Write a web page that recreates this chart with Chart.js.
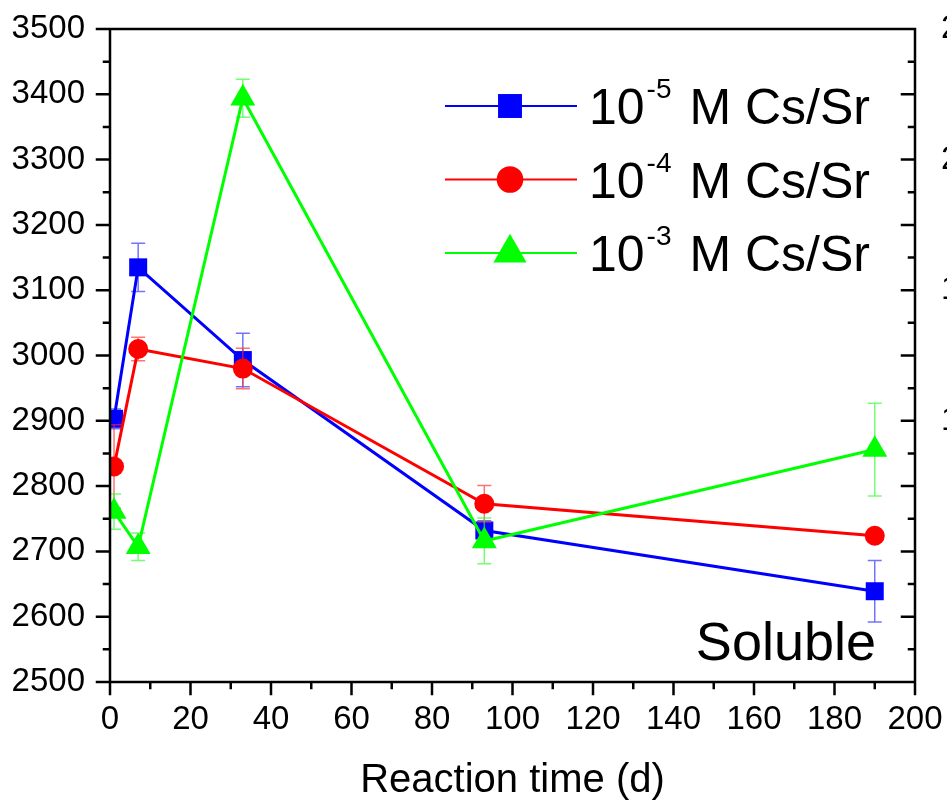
<!DOCTYPE html>
<html>
<head>
<meta charset="utf-8">
<title>Soluble Cs/Sr vs reaction time</title>
<script src="https://cdn.jsdelivr.net/npm/chart.js@4.4.1/dist/chart.umd.min.js"></script>
<style>
  body { margin: 0; background: #fff; }
  canvas { display: block; }
</style>
</head>
<body>
<canvas id="lineChart" width="947" height="800"></canvas>
<script>
// reaction time in days
var days = [1, 7, 33, 93, 190];

// soluble concentration for each starting Cs/Sr level, with +/- error
var cs5 = [2903, 3135, 2993, 2732, 2639];
var cs5Err = [15, 37, 41, 15, 47];
var cs4 = [2830, 3010, 2980, 2773, 2724];
var cs4Err = [64, 18, 31, 28, 8];
var cs3 = [2761, 2707, 3394, 2716, 2856];
var cs3Err = [27, 21, 29, 35, 71];

var legendBase = "10";
var legendExp = ["-5", "-4", "-3"];
var legendUnit = " M Cs/Sr";
var rightAxisLabels = ["2", "2", "1", "1"];
var panelLabel = "Soluble";

var FONT = "'Liberation Sans', Arial, sans-serif";

function points(ys) {
  return days.map(function (d, i) { return { x: d, y: ys[i] }; });
}

function series(ys, errs, color, errColor, style, radius, order) {
  return {
    data: points(ys),
    errors: errs,
    errorColor: errColor,
    borderColor: color,
    backgroundColor: color,
    borderWidth: 3,
    pointStyle: style,
    pointRadius: radius,
    pointHoverRadius: radius,
    pointBorderWidth: 0,
    pointBackgroundColor: color,
    showLine: true,
    tension: 0,
    clip: 0,
    order: order
  };
}

// error bars go under each dataset's own markers
var errorBars = {
  id: "errorBars",
  beforeDatasetDraw: function (chart, args) {
    var ds = chart.data.datasets[args.index];
    if (!ds.errors) return;
    var ctx = chart.ctx, a = chart.chartArea;
    var x = chart.scales.x, y = chart.scales.y;
    ctx.save();
    ctx.beginPath();
    ctx.rect(a.left, a.top, a.right - a.left, a.bottom - a.top);
    ctx.clip();
    ctx.strokeStyle = ds.errorColor;
    ctx.lineWidth = 1.5;
    ctx.beginPath();
    ds.data.forEach(function (p, i) {
      var px = x.getPixelForValue(p.x);
      var top = y.getPixelForValue(p.y + ds.errors[i]);
      var bot = y.getPixelForValue(p.y - ds.errors[i]);
      ctx.moveTo(px, top); ctx.lineTo(px, bot);
      ctx.moveTo(px - 7, top); ctx.lineTo(px + 7, top);
      ctx.moveTo(px - 7, bot); ctx.lineTo(px + 7, bot);
    });
    ctx.stroke();
    ctx.restore();
  }
};

// closed frame, major/minor ticks, the cut-off right axis, legend and panel label
var decorations = {
  id: "decorations",
  afterDraw: function (chart) {
    var ctx = chart.ctx, a = chart.chartArea;
    var x = chart.scales.x, y = chart.scales.y;
    ctx.save();
    ctx.strokeStyle = "#000";
    ctx.lineWidth = 2.5;
    ctx.lineCap = "square";
    ctx.beginPath();
    ctx.rect(a.left, a.top, a.right - a.left, a.bottom - a.top);
    for (var v = x.min; v <= x.max; v += 10) {
      var px = x.getPixelForValue(v);
      ctx.moveTo(px, a.bottom);
      ctx.lineTo(px, a.bottom + (v % 20 === 0 ? 12 : 6));
    }
    for (var w = y.min; w <= y.max; w += 50) {
      var py = y.getPixelForValue(w);
      var len = w % 100 === 0 ? 13 : 6;
      ctx.moveTo(a.left, py); ctx.lineTo(a.left - len, py);
      ctx.moveTo(a.right, py); ctx.lineTo(a.right - len, py);
    }
    ctx.stroke();

    ctx.fillStyle = "#000";
    ctx.font = "33px " + FONT;
    ctx.textAlign = "left";
    ctx.textBaseline = "middle";
    rightAxisLabels.forEach(function (t, i) {
      ctx.fillText(t, a.right + 26, y.getPixelForValue(y.max - i * 200));
    });

    // legend, symbols a bit larger than on the curves
    var rowY = [106, 179.5, 253];
    chart.data.datasets.forEach(function (ds, i) {
      var ly = rowY[i];
      ctx.strokeStyle = ds.borderColor;
      ctx.lineWidth = 2;
      ctx.lineCap = "butt";
      ctx.beginPath();
      ctx.moveTo(445, ly); ctx.lineTo(577, ly);
      ctx.stroke();
      ctx.fillStyle = ds.backgroundColor;
      Chart.helpers.drawPoint(ctx, { pointStyle: ds.pointStyle, radius: ds.pointRadius * 1.33, rotation: 0, borderWidth: 0 }, 510, ly);

      var base = ly + 18;
      var tx = 589;
      ctx.fillStyle = "#000";
      ctx.textBaseline = "alphabetic";
      ctx.font = "50px " + FONT;
      ctx.fillText(legendBase, tx, base);
      tx += ctx.measureText(legendBase).width + 2;
      ctx.font = "28px " + FONT;
      ctx.fillText(legendExp[i], tx, base - 26);
      tx += ctx.measureText(legendExp[i]).width + 4;
      ctx.font = "50px " + FONT;
      ctx.fillText(legendUnit, tx, base);
    });

    ctx.font = "54px " + FONT;
    ctx.textAlign = "right";
    ctx.textBaseline = "alphabetic";
    ctx.fillStyle = "#000";
    ctx.fillText(panelLabel, 876, 660);
    ctx.restore();
  }
};

function plainTick(value) {
  return String(value);
}

var ctx = document.getElementById("lineChart").getContext("2d");

var myLineChart = new Chart(ctx, {
  type: "scatter",
  data: {
    datasets: [
      series(cs5, cs5Err, "#0000ff", "rgba(40,40,255,0.65)", "rect", 12.73, 3),
      series(cs4, cs4Err, "#ff0000", "rgba(255,40,40,0.65)", "circle", 10, 2),
      series(cs3, cs3Err, "#00ff00", "rgba(40,255,40,0.65)", "triangle", 14.4, 1)
    ]
  },
  options: {
    responsive: false,
    animation: false,
    layout: {
      padding: { top: 29, right: 32, left: 0, bottom: 0 }
    },
    plugins: {
      legend: { display: false },
      tooltip: { enabled: false }
    },
    scales: {
      x: {
        type: "linear",
        min: 0,
        max: 200,
        grid: { display: false, drawTicks: false },
        border: { display: false },
        ticks: {
          stepSize: 20,
          color: "#000",
          padding: 18,
          maxRotation: 0,
          callback: plainTick,
          font: { family: FONT, size: 33 }
        },
        title: {
          display: true,
          text: "Reaction time (d)",
          color: "#000",
          font: { family: FONT, size: 40, lineHeight: 1 },
          padding: { top: 0, bottom: -1 }
        },
        afterFit: function (scale) {
          scale.height = 118;
          scale.paddingLeft = 0;
          scale.paddingRight = 0;
        }
      },
      y: {
        min: 2500,
        max: 3500,
        grid: { display: false, drawTicks: false },
        border: { display: false },
        ticks: {
          stepSize: 100,
          color: "#000",
          padding: 25,
          callback: plainTick,
          font: { family: FONT, size: 33 }
        },
        afterFit: function (scale) {
          scale.width = 110;
          scale.paddingTop = 0;
          scale.paddingBottom = 0;
        }
      }
    }
  },
  plugins: [errorBars, decorations]
});
</script>
</body>
</html>
